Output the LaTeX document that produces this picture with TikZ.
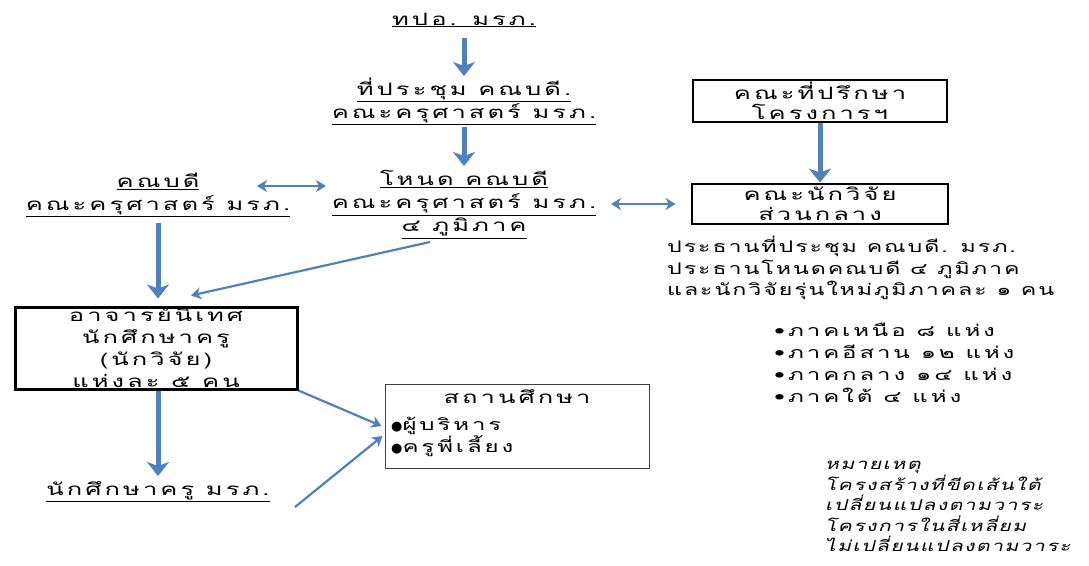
\documentclass[tikz,border=0pt]{standalone}
\usepackage{fontspec}
\newfontfamily\thai[Script=Thai,FakeStretch=1.45,LetterSpace=12]{Loma}
\newfontfamily\thaiw[Script=Thai,FakeStretch=1.5,LetterSpace=18]{Loma}
\newfontfamily\thaiit[Script=Thai,FakeSlant=0.25,FakeStretch=1.4,LetterSpace=10]{Loma}
\newfontfamily\symb{DejaVu Sans}
\usetikzlibrary{arrows.meta}
\definecolor{arrblue}{RGB}{79,129,189}
\tikzset{
  txt/.style={font=\thaiw\fontsize{17}{23}\selectfont, inner sep=0pt, align=center},
  txtl/.style={font=\thai\fontsize{16}{21.5}\selectfont, inner sep=0pt, align=left, anchor=north west},
  boxbig/.style={draw=black, line width=2.8pt, inner sep=0pt},
  boxthin/.style={draw=black!75, line width=1pt, inner sep=0pt},
  thickarr/.style={draw=arrblue, line width=5pt, -{Stealth[length=14pt,width=22pt,inset=4pt]}},
  thinarr/.style={draw=arrblue, line width=2.2pt, -{Stealth[length=10pt,width=12pt,inset=3pt]}},
  dblarr/.style={draw=arrblue, line width=2.2pt, {Stealth[length=10pt,width=12pt,inset=3pt]}-{Stealth[length=10pt,width=12pt,inset=3pt]}},
}
\newcommand{\bigdot}{{\symb\fontsize{13}{13}\selectfont ●}}
\begin{document}
\begin{tikzpicture}[x=1pt,y=-1pt]
\useasboundingbox[fill=white] (0,0) rectangle (1089,565);
% text nodes
\node[txt] (tpo) at (464,20) {\underline{ทปอ. มรภ.}};
\node[txt] (meet) at (464,101.5) {\underline{ที่ประชุม คณบดี.}\\ \underline{คณะครุศาสตร์ มรภ.}};
\node[txt] (node4) at (464,204.5) {\underline{โหนด คณบดี}\\ \underline{คณะครุศาสตร์ มรภ.}\\ \underline{๔ ภูมิภาค}};
\node[txt] (dean) at (158,195) {\underline{คณบดี}\\ \underline{คณะครุศาสตร์ มรภ.}};
% boxes right
\node[boxbig, minimum width=254pt, minimum height=42pt, txt, font=\thaiw\fontsize{17}{20}\selectfont] (adv) at (820,101) {คณะที่ปรึกษา\\ โครงการฯ};
\node[boxbig, minimum width=256pt, minimum height=40pt, txt, font=\thaiw\fontsize{17}{20}\selectfont] (cres) at (820,204) {คณะนักวิจัย\\ ส่วนกลาง};
\node[txtl] (chair) at (667,236) {ประธานที่ประชุม คณบดี. มรภ.\\ ประธานโหนดคณบดี ๔ ภูมิภาค\\ และนักวิจัยรุ่นใหม่ภูมิภาคละ ๑ คน};
\node[txtl, font=\thaiw\fontsize{16}{22}\selectfont] (regions) at (774,323) {•ภาคเหนือ ๘ แห่ง\\ •ภาคอีสาน ๑๒ แห่ง\\ •ภาคกลาง ๑๔ แห่ง\\ •ภาคใต้ ๔ แห่ง};
% supervisor box
\node[boxbig, line width=3pt, minimum width=282pt, minimum height=82pt] (sup) at (156,348) {};
\node[txt, font=\thaiw\fontsize{17}{22}\selectfont] (supT) at (156,347) {อาจารย์นิเทศ\\ นักศึกษาครู\\ (นักวิจัย)\\ แห่งละ ๕ คน};
\node[txt] (stud) at (158,492) {\underline{นักศึกษาครู มรภ.}};
% school box
\node[boxthin, minimum width=264pt, minimum height=84pt] (school) at (517,426) {};
\node[txt] (schoolT) at (517,397) {สถานศึกษา};
\node[txtl, font=\thaiw\fontsize{16}{22}\selectfont] (schoolB) at (391,417) {\bigdot ผู้บริหาร\\ \bigdot ครูพี่เลี้ยง};
% note
\node[font=\thaiit\fontsize{15}{20.5}\selectfont, inner sep=0pt, align=left, anchor=north west] (note) at (825,461) {หมายเหตุ\\ โครงสร้างที่ขีดเส้นใต้\\ เปลี่ยนแปลงตามวาระ\\ โครงการในสี่เหลี่ยม\\ ไม่เปลี่ยนแปลงตามวาระ};
% connectors
\draw[thickarr] ([yshift=-18pt]tpo.center) -- ([yshift=25.5pt]meet.center);
\draw[thickarr] ([yshift=-25.5pt]meet.center) -- ([yshift=38.5pt]node4.center);
\draw[dblarr] ([xshift=99pt,yshift=9pt]dean.center) -- ([xshift=-138pt,yshift=18.5pt]node4.center);
\draw[dblarr] ([xshift=147pt,yshift=0.5pt]node4.center) -- ([xshift=-15pt]cres.west);
\draw[thickarr] (adv.south) -- (cres.north);
\draw[thickarr] ([yshift=-28pt]dean.center) -- ([xshift=2pt,yshift=7pt]sup.north);
\draw[thinarr] ([xshift=-34pt,yshift=-37.5pt]node4.center) -- ([xshift=35pt,yshift=10pt]sup.north);
\draw[thickarr] ([xshift=2pt]sup.south) -- ([yshift=16pt]stud.center);
\draw[thinarr] (sup.south east) -- ([xshift=-3pt]school.west);
\draw[thinarr] ([xshift=137pt,yshift=-15pt]stud.center) -- ([xshift=-2pt,yshift=-10pt]school.west);
\end{tikzpicture}
\end{document}
